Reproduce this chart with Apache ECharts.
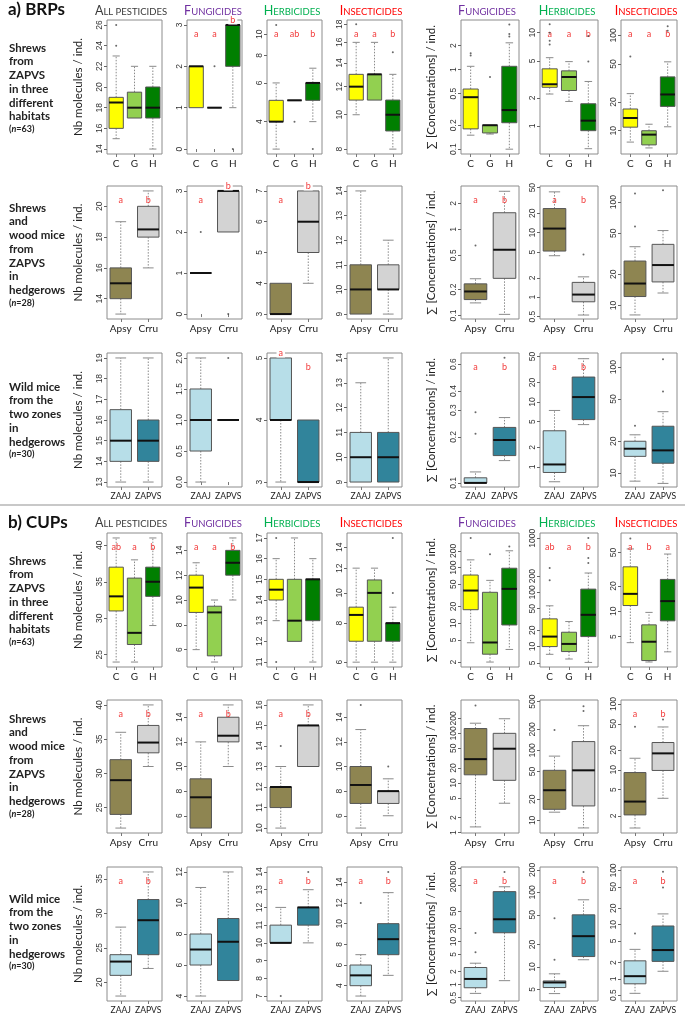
<!DOCTYPE html>
<html><head><meta charset="utf-8">
<script src="https://cdn.jsdelivr.net/npm/echarts@6/dist/echarts.min.js"></script>
<style>html,body{margin:0;padding:0;background:#fff}#c{width:685px;height:1014px}</style>
</head><body><div id="c"></div><script>
// ---------------- DATA ----------------
const groupsHab = ['C','G','H'];
const groupsSp = ['Apsy','Crru'];
const groupsZone = ['ZAAJ','ZAPVS'];
const panelTitles = ['All pesticides','Fungicides','Herbicides','Insecticides','Fungicides','Herbicides','Insecticides'];
// boxes: per panel, per group [lower whisker, Q1, median, Q3, upper whisker]
// a) BRPs — shrews, three habitats
const a1Boxes = [
 [[15,16,18.5,19,23],[17,17,18,19.5,22],[14,17,18,20,22]],
 [[1,1,2,2,2],[1,1,1,1,1],[1,2,3,3,3]],
 [[3,4,4,5,6],[5,5,5,5,5],[4,5,6,6,7]],
 [[10,11,12,13,16],[11,11,13,13,16],[8,9,10,11,13]],
 [[0.15,0.18,0.45,0.57,1.1],[0.155,0.16,0.2,0.2,0.2],[0.1,0.215,0.31,1.1,2.17]],
 [[2.2,2.6,2.8,4.1,5.4],[1.83,2.4,3.35,3.9,4.9],[0.57,0.89,1.14,1.73,3.0]],
 [[7.6,10.9,13.6,16.9,24.5],[6.6,7.1,9.1,10,11.7],[11,18,24,36.7,52.8]]
];
const a1Outliers = [[[24,26],[],[]],[[],[2],[0]],[[11],[4],[3]],[[18],[],[15]],[[1.5,1.6],[0.81],[2.6,2.8,3.7]],[[12.3,10,8.2,7.5],[],[4.9,9.2]],[[60],[],[112,125]]];
const a1Ticks = [['14','16','18','20','22','24','26'],['0','1','2','3'],['4','6','8','10'],['8','10','12','14','16','18'],['0.1','0.2','0.5','1','2'],['1','2','5','10'],['10','20','50','100']];
const a1Range = [[13.52,26.48],[-0.12,3.12],[2.85,11.6],[7.75,18.5],[0.087,4.2],[0.5,13.7],[5.7,145]];
const a1Log = [false,false,true,true,true,true,true];
const a1Letters = [[],['a','a','b'],['a','ab','b'],['a','a','b'],[],['a','a','b'],['a','a','b']];
// a) BRPs — shrews and wood mice
const a2Boxes = [
 [[13,14,15,16,19],[16,18,18.5,20,21]],
 [[1,1,1,1,1],[2,2,3,3,3]],
 [[3,3,3,4,4],[4,5,6,7,7]],
 [[9,9,10,11,14],[9,10,10,11,12]],
 [[0.14,0.153,0.19,0.233,0.267],[0.103,0.27,0.58,1.56,2.77]],
 [[4.4,5.2,11.6,23.7,43],[0.53,0.85,1.1,1.7,2.07]],
 [[8.1,12.2,16.3,26.9,37],[13.2,16.9,24.6,39,53]]
];
const a2Outliers = [[[],[]],[[2],[0]],[[],[]],[[],[]],[[0.65],[]],[[],[4.6]],[[58,121],[130]]];
const a2Ticks = [['14','16','18','20'],['0','1','2','3'],['3','4','5','6','7'],['9','10','11','12','13','14'],['0.1','0.2','0.5','1','2'],['0.5','1','2','5','10','20','50'],['10','20','50','100']];
const a2Range = [[12.68,21.32],[-0.12,3.12],[2.84,7.16],[8.8,14.2],[0.091,3.19],[0.46,53],[7.4,143]];
const a2Log = [false,false,false,false,true,true,true];
const a2Letters = [['a','b'],['a','b'],['a','b'],[],['a','b'],['a','b'],[]];
// a) BRPs — wild mice, two zones
const a3Boxes = [
 [[13,14,15,16.5,19],[13,14,15,16,19]],
 [[0,0.5,1,1.5,2],[1,1,1,1,1]],
 [[3,4,4,5,5],[3,3,3,4,4]],
 [[9,9,10,11,13],[9,9,10,11,14]],
 [[0.1,0.1,0.1,0.108,0.118],[0.14,0.151,0.191,0.231,0.268]],
 [[0.59,0.82,1.09,3.6,7.4],[4.48,5.35,11.9,24.2,46.4]],
 [[8.4,14.4,17,20,23],[8,12.4,16.4,27.7,38]]
];
const a3Outliers = [[[],[]],[[],[2]],[[],[]],[[],[]],[[0.21,0.29],[0.66]],[[],[]],[[28],[59,119]]];
const a3Ticks = [['13','14','15','16','17','18','19'],['0.0','0.5','1.0','1.5','2.0'],['3','4','5'],['9','10','11','12','13','14'],['0.1','0.2','0.3','0.4','0.6'],['1','2','5','10','20','50'],['10','20','50','100']];
const a3Range = [[12.76,19.24],[-0.08,2.08],[2.92,5.08],[8.8,14.2],[0.094,0.71],[0.49,56.8],[7.4,136]];
const a3Log = [false,false,false,false,true,true,true];
const a3Letters = [[],[],['a','b'],[],['a','b'],['a','b'],[]];
// b) CUPs — shrews, three habitats
const b1Boxes = [
 [[24,31,33,37,41],[24,26.4,28,35.5,38],[29,33,35,37,41]],
 [[6,9,11,12,13],[5,5.5,9,9.5,10],[10,12,13,14,15]],
 [[13,14,14.5,15,16],[12,12,13,15,17],[11,13,15,15,16]],
 [[6,7,8.5,9,12],[6,7,10,11,12],[6,7,8,8,9]],
 [[4.45,17.5,38.7,73.6,138],[2,2.77,4.5,36,59],[3.37,9.3,41.5,97.6,201]],
 [[7.2,10,15.3,32.5,56.6],[5.9,8.1,11.2,18.4,29],[5.1,15.3,38.6,115,228]],
 [[4.24,11.7,16.1,33.7,55],[2.5,2.6,4.35,6.9,9.7],[3.3,7.7,13.2,23.9,47.8]]
];
const b1Outliers = [[[],[],[]],[[],[],[]],[[17,11],[],[]],[[],[],[10,15]],[[340],[175],[240]],[[167,282],[],[350,430,1010]],[[73],[],[]]];
const b1Ticks = [['25','30','35','40'],['6','8','10','12','14'],['11','12','13','14','15','16','17'],['6','8','10','12','14'],['2','5','10','20','50','100','200'],['5','10','20','50','100','200','1000'],['5','10','20','50']];
const b1Range = [[23.32,41.68],[4.6,15.4],[10.76,17.24],[5.79,15.55],[1.63,420],[4.2,1250],[2.18,85]];
const b1Log = [false,false,false,true,true,true,true];
const b1Letters = [['ab','a','b'],['a','a','b'],[],[],[],['ab','a','b'],['a','b','a']];
// b) CUPs — shrews and wood mice
const b2Boxes = [
 [[22,24,29,32,36],[31,33,34.5,37,40]],
 [[5,5,7.5,9,12],[10,12,12.5,14,15]],
 [[10,11,12,12,13],[13,13,15,15,16]],
 [[5,7,8.5,10,13],[6,7,8,8,9]],
 [[1.3,14.6,30.2,125,160],[3.9,11.3,49,100,197]],
 [[13.1,14.4,27,52,83],[7.8,16.1,52,134,226]],
 [[1.31,2.07,3.3,9.1,15],[3.7,9.8,17.8,26,44.8]]
];
const b2Outliers = [[[],[]],[[],[]],[[14],[]],[[15],[10]],[[364],[]],[[196],[367,430]],[[45],[58]]];
const b2Ticks = [['25','30','35','40'],['6','8','10','12','14'],['10','11','12','13','14','15','16'],['6','8','10','12','14'],['1','2','5','10','20','50','100','200','500'],['10','20','50','100','200','500'],['2','5','10','20','50','100']];
const b2Range = [[21.28,40.72],[4.6,15.4],[9.76,16.24],[4.6,15.4],[0.98,470],[6.6,527],[1.1,115]];
const b2Log = [false,false,false,false,true,true,true];
const b2Letters = [['a','b'],['a','b'],['a','b'],[],[],[],['a','b']];
// b) CUPs — wild mice, two zones
const b3Boxes = [
 [[18,21,23,24,28],[22,24,29,32,36]],
 [[4,6,7,8,11],[5,5,7.5,9,12]],
 [[10,10,10,11,12],[10,11,12,12,13]],
 [[3,4,5,6,7],[5,7,8.5,10,13]],
 [[0.63,0.85,1.36,2.5,3.14],[1.24,15.9,32.6,142,184]],
 [[4.4,5.3,6.2,6.5,8.1],[12.5,13.8,25.9,50,79.6]],
 [[0.54,0.81,1.12,2.15,3.5],[1.38,2.1,3.4,9.45,15.8]]
];
const b3Outliers = [[[],[]],[[],[]],[[7],[14]],[[12],[15]],[[5.6,15.7],[405]],[[12.5,45],[188]],[[6.9],[48.4,95]]];
const b3Ticks = [['20','25','30','35'],['4','6','8','10','12'],['7','8','9','10','11','12','13','14'],['4','6','8','10','12','14'],['0.5','1','2','5','10','20','50','200','500'],['5','10','20','50','100','200'],['0.5','1','2','5','10','20','50','100']];
const b3Range = [[17.28,36.72],[3.68,12.32],[6.72,14.28],[2.52,15.48],[0.42,527],[3.5,219],[0.39,116]];
const b3Log = [false,false,false,false,true,true,true];
const b3Letters = [['a','b'],[],['a','b'],['a','b'],['a','b'],['a','b'],['a','b']];
// letters drawn on the top frame: "row-panel-group"
const lettersOnFrame = ['0-1-2','1-1-1','1-2-1','2-2-0'];
const rowLabels = [
 ['Shrews','from','ZAPVS','in three','different','habitats','63'],
 ['Shrews','and','wood mice','from','ZAPVS','in','hedgerows','28'],
 ['Wild mice','from the','two zones','in','hedgerows','30']
];

// ---------------- LAYOUT / STYLE ----------------
const colLeft = [107,187,267,347,461,540,621];
const colWidth = [55,55,55,55,58,58,56];
const rowTop = [20,186,353,533,700,867];
const rowHeight = [134,133,134,134,133,134];
const labelTop = [48,208,387,561,719,899];
const headerX = [131,213,292,371,487,567,646];
const headerColors = ['#3a3a3a','#7030A0','#00B050','#FF0000','#7030A0','#00B050','#FF0000'];
const groupColors = {C:'#FFFF00',G:'#92D050',H:'#007F00',Apsy:'#8E8551',Crru:'#D3D3D3',ZAAJ:'#B7DEE8',ZAPVS:'#31849B'};
const fontUI = 'Lato, "Noto Sans", sans-serif';
const fontTick = '"Liberation Sans", Arial, sans-serif';

const rows = [
 {groups:groupsHab, boxes:a1Boxes, out:a1Outliers, ticks:a1Ticks, range:a1Range, log:a1Log, letters:a1Letters},
 {groups:groupsSp, boxes:a2Boxes, out:a2Outliers, ticks:a2Ticks, range:a2Range, log:a2Log, letters:a2Letters},
 {groups:groupsZone, boxes:a3Boxes, out:a3Outliers, ticks:a3Ticks, range:a3Range, log:a3Log, letters:a3Letters},
 {groups:groupsHab, boxes:b1Boxes, out:b1Outliers, ticks:b1Ticks, range:b1Range, log:b1Log, letters:b1Letters},
 {groups:groupsSp, boxes:b2Boxes, out:b2Outliers, ticks:b2Ticks, range:b2Range, log:b2Log, letters:b2Letters},
 {groups:groupsZone, boxes:b3Boxes, out:b3Outliers, ticks:b3Ticks, range:b3Range, log:b3Log, letters:b3Letters}
];

function makeRender(r, p, row) {
  const n = row.groups.length;
  return function (params, api) {
    const i = api.value(0);
    const cs = params.coordSys;
    const band = cs.width / n;
    const bw = band * 0.78;
    const cx = api.coord([i, api.value(3)])[0];
    const yLo = api.coord([i, api.value(1)])[1];
    const yQ1 = api.coord([i, api.value(2)])[1];
    const yMed = api.coord([i, api.value(3)])[1];
    const yQ3 = api.coord([i, api.value(4)])[1];
    const yHi = api.coord([i, api.value(5)])[1];
    const ch = [];
    const dash = {stroke:'#8a8a8a', lineWidth:1, lineDash:[1.5,1.5]};
    const cap = {stroke:'#8a8a8a', lineWidth:1};
    if (yQ3 - yHi > 0.5) {
      ch.push({type:'line', shape:{x1:cx,y1:yQ3,x2:cx,y2:yHi}, style:dash});
      ch.push({type:'line', shape:{x1:cx-bw/4,y1:yHi,x2:cx+bw/4,y2:yHi}, style:cap});
    }
    if (yLo - yQ1 > 0.5) {
      ch.push({type:'line', shape:{x1:cx,y1:yQ1,x2:cx,y2:yLo}, style:dash});
      ch.push({type:'line', shape:{x1:cx-bw/4,y1:yLo,x2:cx+bw/4,y2:yLo}, style:cap});
    }
    ch.push({type:'rect', shape:{x:cx-bw/2, y:yQ3, width:bw, height:Math.max(yQ1-yQ3,0)},
      style:{fill:groupColors[row.groups[i]], stroke:'#555', lineWidth:1}});
    ch.push({type:'line', shape:{x1:cx-bw/2,y1:yMed,x2:cx+bw/2,y2:yMed}, style:{stroke:'#111', lineWidth:2}});
    const L = row.letters[p][i];
    if (L) {
      const onFrame = lettersOnFrame.indexOf(r+'-'+p+'-'+i) >= 0;
      ch.push({type:'text', x:cx, y: onFrame ? cs.y : cs.y + 14, z2:10,
        style:{text:L, fill:'#f23a3a', fontSize:9, fontFamily:fontUI, align:'center', verticalAlign:'middle',
          backgroundColor: onFrame ? '#fff' : null, padding: onFrame ? [0,2] : 0}});
    }
    return {type:'group', children:ch};
  };
}

const grids=[], xAxes=[], yAxes=[], series=[];
rows.forEach((row, r) => {
  for (let p = 0; p < 7; p++) {
    const gi = r*7 + p;
    grids.push({left:colLeft[p], top:rowTop[r], width:colWidth[p], height:rowHeight[r], show:true,
      borderColor:'#8c8c8c', borderWidth:1, backgroundColor:'rgba(0,0,0,0)', containLabel:false, outerBoundsMode:'none'});
    xAxes.push({gridIndex:gi, type:'category', data:row.groups, boundaryGap:true,
      axisLine:{show:false}, splitLine:{show:false},
      axisTick:{show:true, alignWithLabel:true, length:3, lineStyle:{color:'#777'}},
      axisLabel:{interval:0, hideOverlap:false, fontSize: row.groups === groupsZone ? 8.6 : 10, color:'#222', margin:5, fontFamily:fontUI}});
    const labs = row.ticks[p];
    const nums = labs.map(Number);
    yAxes.push({gridIndex:gi, type: row.log[p] ? 'log' : 'value', logBase:10,
      min:row.range[p][0], max:row.range[p][1],
      axisLine:{show:false}, splitLine:{show:false},
      axisTick:{show:true, length:3, customValues:nums, lineStyle:{color:'#666'}},
      axisLabel:{customValues:nums, rotate:90, fontSize:8.5, color:'#333', margin:3, fontFamily:fontTick,
        formatter: v => { let best='', bd=Infinity; nums.forEach((t,k)=>{ const d=Math.abs(t-v)/Math.max(Math.abs(t),1e-6); if(d<bd){bd=d;best=labs[k];} }); return best; }}});
    series.push({type:'custom', xAxisIndex:gi, yAxisIndex:gi, clip:false, z:3,
      encode:{x:0, y:[1,2,3,4,5]}, data: row.boxes[p].map((b,i)=>[i].concat(b)), renderItem: makeRender(r,p,row)});
    const od = [];
    row.out[p].forEach((arr,i)=>arr.forEach(v=>od.push([i,v])));
    series.push({type:'scatter', xAxisIndex:gi, yAxisIndex:gi, data:od, symbol:'circle', symbolSize:2,
      itemStyle:{color:'#444'}, silent:true, z:4});
  }
});

// ---------------- TEXT ----------------
const graphic = [];
graphic.push({type:'line', shape:{x1:0,y1:505,x2:685,y2:505}, style:{stroke:'#c8c8c8', lineWidth:2}});
[['a) BRPs',10],['b) CUPs',523]].forEach(([t,y])=>graphic.push({type:'text', x:8, y:y,
  style:{text:t, fontSize:17, fontWeight:'bold', fontFamily:fontUI, fill:'#111', align:'left', verticalAlign:'middle'}}));
[10, 522].forEach(y => {
  panelTitles.forEach((t,p) => {
    const up = t.toUpperCase();
    graphic.push({type:'text', x:headerX[p], y:y, style:{
      text:'{b|'+up[0]+'}{s|'+up.slice(1)+'}', align:'center', verticalAlign:'middle',
      rich:{b:{fontSize:12.5, fontFamily:fontUI, fill:headerColors[p], verticalAlign:'bottom', lineHeight:14},
            s:{fontSize:9.5, fontFamily:fontUI, fill:headerColors[p], verticalAlign:'bottom', lineHeight:14}}}});
  });
});
rowTop.forEach((top, r) => {
  const cy = top + rowHeight[r]/2;
  graphic.push({type:'text', x:78, y:cy, rotation:Math.PI/2, style:{text:'Nb molecules / ind.', fontSize:11.5, fontFamily:fontUI, fill:'#222', align:'center', verticalAlign:'middle'}});
  graphic.push({type:'text', x:431, y:cy, rotation:Math.PI/2, style:{text:'\u2211 [Concentrations] / ind.', fontSize:11.5, fontFamily:fontUI, fill:'#222', align:'center', verticalAlign:'middle'}});
  const lines = rowLabels[r % 3];
  lines.forEach((ln, k) => {
    const y = labelTop[r] + k*13.7;
    if (k === lines.length - 1) {
      graphic.push({type:'text', x:9, y:y - 1, style:{text:'{p|(}{i|n}{p|='+ln+')}', align:'left', verticalAlign:'middle',
        rich:{p:{fontSize:9, fontWeight:'bold', fontFamily:fontUI, fill:'#222'}, i:{fontSize:9, fontWeight:'bold', fontStyle:'italic', fontFamily:fontUI, fill:'#222'}}}});
    } else {
      graphic.push({type:'text', x:9, y:y, style:{text:ln, fontSize:11.5, fontWeight:'bold', fontFamily:fontUI, fill:'#222', align:'left', verticalAlign:'middle'}});
    }
  });
});

const chart = echarts.init(document.getElementById('c'), null, {renderer:'canvas', width:685, height:1014});
chart.setOption({animation:false, backgroundColor:'#fff', grid:grids, xAxis:xAxes, yAxis:yAxes, series:series, graphic:graphic});
</script></body></html>
